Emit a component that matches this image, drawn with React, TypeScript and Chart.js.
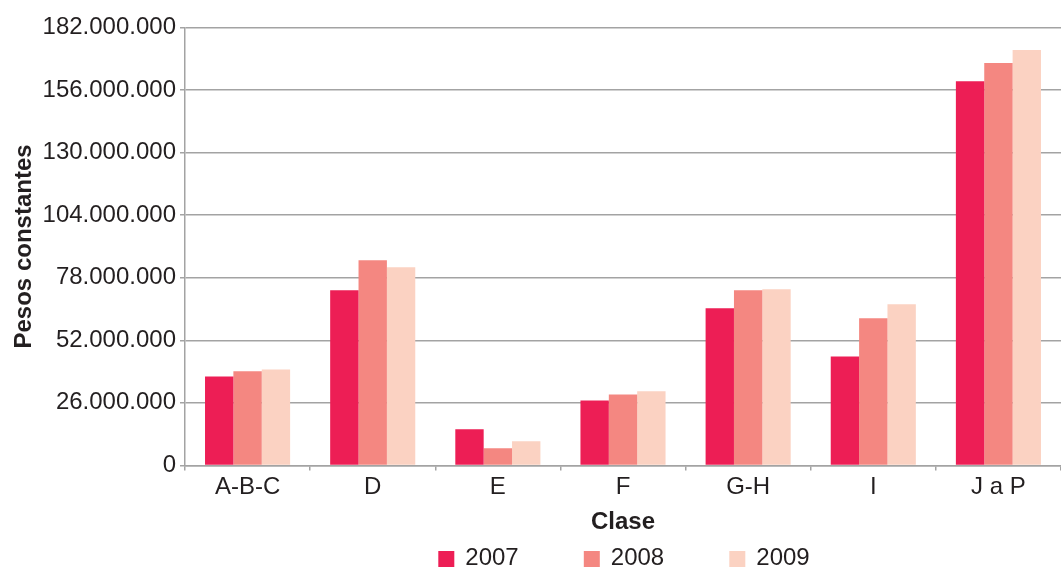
import React, { useEffect, useRef } from "react";
import { Chart, registerables } from "chart.js";

Chart.register(...registerables);

const categories = ["A-B-C", "D", "E", "F", "G-H", "I", "J a P"];
const seriesLabels = ["2007", "2008", "2009"];
const values2007 = [37000000, 72800000, 15000000, 27000000, 65300000, 45300000, 159700000];
const values2008 = [39100000, 85300000, 7100000, 29500000, 72800000, 61200000, 167200000];
const values2009 = [39900000, 82400000, 10000000, 30800000, 73200000, 67000000, 172600000];
const seriesColors = ["#ED1E55", "#F48781", "#FBD2C2"];
const yMax = 182000000;
const yStep = 26000000;

const FONT = "'Liberation Sans', Arial, Helvetica, sans-serif";
const TEXT = "#231f20";
const GRID = "#a3a3a3";
const FS = 24;

function formatThousands(v: number): string {
  return Math.round(v).toString().replace(/\B(?=(\d{3})+(?!\d))/g, ".");
}

const bottomLegend = {
  id: "bottomLegend",
  afterDraw(chart: any) {
    const { ctx, chartArea } = chart;
    const cx = (chartArea.left + chartArea.right) / 2;
    const step = 145.5;
    const box = 16;
    const gap = 11;
    ctx.save();
    ctx.font = `${FS}px ${FONT}`;
    const lastW = box + gap + ctx.measureText(seriesLabels[seriesLabels.length - 1]).width;
    const total = step * (seriesLabels.length - 1) + lastW;
    let x = cx - total / 2 + 1;
    const yc = 558;
    chart.data.datasets.forEach((ds: any) => {
      ctx.fillStyle = ds.backgroundColor;
      ctx.fillRect(x, yc - box / 2 + 1, box, box);
      ctx.fillStyle = TEXT;
      ctx.textBaseline = "middle";
      ctx.textAlign = "left";
      ctx.fillText(ds.label, x + box + gap, yc);
      x += step;
    });
    ctx.restore();
  },
};

export default function App() {
  const ref = useRef<HTMLCanvasElement | null>(null);

  useEffect(() => {
    if (!ref.current) return;
    const data = [values2007, values2008, values2009];
    const chart = new Chart(ref.current, {
      type: "bar",
      data: {
        labels: categories,
        datasets: seriesLabels.map((label, i) => ({
          label,
          data: data[i],
          backgroundColor: seriesColors[i],
          borderWidth: 0,
          categoryPercentage: 0.68,
          barPercentage: 1.0,
        })),
      },
      options: {
        responsive: false,
        animation: false,
        layout: { padding: { top: 27.5, left: 0, right: 0, bottom: 30 } },
        plugins: {
          legend: { display: false },
          tooltip: { enabled: false },
        },
        scales: {
          x: {
            grid: {
              display: true,
              drawOnChartArea: false,
              drawTicks: true,
              tickLength: 5,
              color: GRID,
              lineWidth: 1.5,
              offset: true,
            },
            border: { display: true, color: GRID, width: 1.5 },
            ticks: {
              color: TEXT,
              font: { family: FONT, size: FS },
              padding: 3,
              maxRotation: 0,
              autoSkip: false,
            },
            title: {
              display: true,
              text: "Clase",
              color: TEXT,
              font: { family: FONT, size: FS, weight: "bold" },
              padding: { top: 3, bottom: 0 },
            },
          },
          y: {
            min: 0,
            max: yMax,
            afterFit: (scale: any) => {
              scale.width = 185;
            },
            grid: {
              color: GRID,
              lineWidth: 1.5,
              drawTicks: true,
              tickLength: 5,
            },
            border: { display: true, color: GRID, width: 1.5 },
            ticks: {
              stepSize: yStep,
              color: TEXT,
              font: { family: FONT, size: FS },
              padding: 4,
              callback: (v: any) => formatThousands(Number(v)),
            },
            title: {
              display: true,
              text: "Pesos constantes",
              color: TEXT,
              font: { family: FONT, size: FS, weight: "bold" },
              padding: { top: 10, bottom: 0 },
            },
          },
        },
      },
      plugins: [bottomLegend],
    });
    return () => chart.destroy();
  }, []);

  return (
    <div style={{ position: "absolute", left: 0, top: 0, width: 1061, height: 567, background: "#fff" }}>
      <canvas ref={ref} width={1061} height={567} style={{ display: "block", width: 1061, height: 567 }} />
    </div>
  );
}
